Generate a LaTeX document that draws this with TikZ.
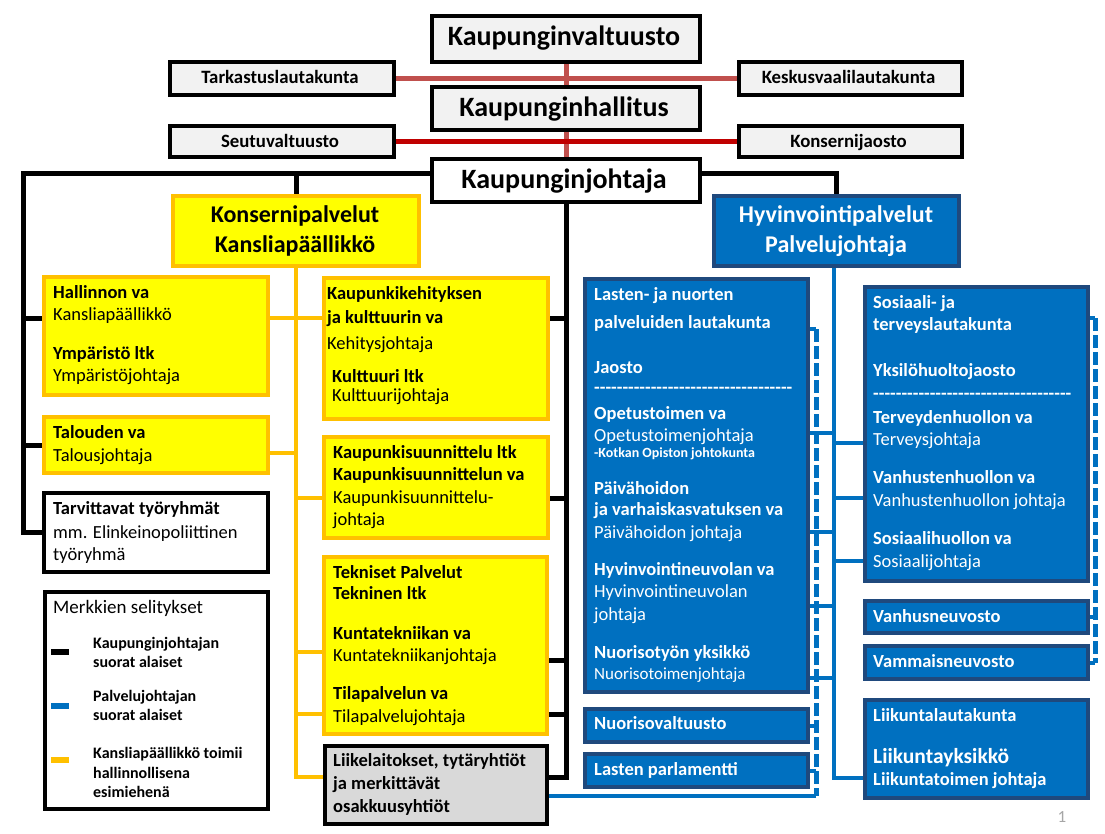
\documentclass[tikz,border=0pt]{standalone}
\usepackage{fontspec}
\setmainfont{Carlito}
\usetikzlibrary{backgrounds}
\definecolor{yfill}{HTML}{FFFF00}
\definecolor{yline}{HTML}{FFC000}
\definecolor{gfill}{HTML}{F2F2F2}
\definecolor{lgfill}{HTML}{D9D9D9}
\definecolor{bfill}{HTML}{0070C0}
\definecolor{bline}{HTML}{1F497D}
\definecolor{lred}{HTML}{C0504D}
\definecolor{dred}{HTML}{C00000}
\definecolor{pgnum}{HTML}{A6A6A6}
\tikzset{
 bx/.style={draw, line width=4pt, inner sep=0pt, anchor=north west},
 graybox/.style={bx, draw=black, fill=gfill},
 whitebox/.style={bx, draw=black, fill=white},
 ybox/.style={bx, draw=yline, fill=yfill},
 bbox/.style={bx, draw=bline, fill=bfill},
 lgbox/.style={bx, draw=black, fill=lgfill},
 tx/.style={anchor=base west, inner sep=0pt, font=\fontsize{18.5}{22}\selectfont},
 txb/.style={anchor=base west, inner sep=0pt, font=\fontsize{18.5}{22}\selectfont\bfseries},
 tbig/.style={anchor=base, inner sep=0pt, font=\fontsize{28}{32}\selectfont\bfseries},
 tsm/.style={anchor=base, inner sep=0pt, font=\fontsize{18.8}{22}\selectfont\bfseries},
 tmid/.style={anchor=base, inner sep=0pt, font=\fontsize{24}{28}\selectfont\bfseries},
 tleg/.style={anchor=base west, inner sep=0pt, font=\fontsize{16}{19}\selectfont\bfseries},
 wt/.style={text=white},
 blk/.style={line width=5pt, draw=black},
 ylw/.style={line width=4.5pt, draw=yline},
 blu/.style={line width=4pt, draw=bfill},
 bdash/.style={line width=5pt, draw=bfill, dash pattern=on 13pt off 4pt},
}
\newcommand\mkbox[6]{\node[#1, minimum width={(#5-#3)*1pt}, minimum height={(#6-#4)*1pt}] (#2) at (#3,#4) {};}
\newcommand\hyrow[1]{\foreach \i in {1,...,#1}{-\kern0pt}}
\begin{document}
\begin{tikzpicture}[x=1pt,y=-1pt]
\useasboundingbox (0,0) rectangle (1105,833);
% ---- boxes ----
\mkbox{graybox}{kv}{430}{14}{698}{60}
\mkbox{graybox}{kh}{430}{85}{698}{128}
\mkbox{whitebox}{kj}{430}{157}{698}{200}
\mkbox{graybox}{tark}{168}{60}{392}{93}
\mkbox{graybox}{kesk}{737}{60}{960}{93}
\mkbox{graybox}{seut}{168}{124}{392}{155}
\mkbox{graybox}{konsj}{737}{124}{960}{155}
\mkbox{ybox}{konsp}{171}{194}{417}{264}
\mkbox{bbox}{hyv}{712}{194}{957}{264}
\mkbox{ybox}{hall}{42}{275}{266}{393}
\mkbox{ybox}{talo}{42}{415}{266}{471}
\mkbox{whitebox}{tarv}{42}{491}{266}{570}
\mkbox{whitebox}{leg}{43}{590}{266}{807}
\mkbox{ybox}{kkeh}{322}{276}{546}{417}
\mkbox{ybox}{ksuun}{322}{435}{546}{536}
\mkbox{ybox}{tekn}{322}{555}{545}{732}
\mkbox{lgbox}{liik}{323}{744}{545}{822}
\mkbox{bbox}{lasten}{583}{277}{806}{690}
\mkbox{bbox}{nuor}{583}{707}{806}{740}
\mkbox{bbox}{lparl}{583}{752}{806}{785}
\mkbox{bbox}{sos}{863}{285}{1086}{579}
\mkbox{bbox}{vanh}{863}{599}{1086}{631}
\mkbox{bbox}{vamm}{863}{644}{1086}{677}
\mkbox{bbox}{liiku}{863}{698}{1086}{796}
% ---- helper coordinates ----
\coordinate (xL) at (23,173);
\coordinate (xB) at (834,0);
\coordinate (xD) at (816,0);
\coordinate (xR) at (1095,0);
\foreach \yy in {318,329,433,443,453,498,532,561,606,652,660,678,714,777,778,796}{\coordinate (y\yy) at (0,\yy);}
% ---- connectors ----
\begin{pgfonlayer}{background}
\fill[white] (0,0) rectangle (1105,833);
\draw[line width=5pt, lred] (kv.south) -- (kh.north);
\draw[line width=5pt, lred] (kh.south) -- (kj.north);
\draw[line width=5pt, lred] (tark.east) -- (kesk.west);
\draw[line width=5pt, dred] (seut.east) -- (konsj.west);
% black
\draw[blk] (kj.west|-xL) -- (xL) -- (xL|-tarv.west) -- (tarv.west);
\draw[blk] (xL|-y318) -- (hall.west|-y318);
\draw[blk] (xL|-talo.west) -- (talo.west);
\draw[blk] (konsp.north|-xL) -- (konsp.north);
\draw[blk] (kj.east|-xL) -- (hyv.north|-xL) -- (hyv.north);
\draw[blk] (kj.south) -- (kj.south|-y777) -- (liik.east|-y777);
\draw[blk] (kj.south|-y318) -- (kkeh.east|-y318);
\draw[blk] (kj.south|-y498) -- (ksuun.east|-y498);
\draw[blk] (kj.south|-y660) -- (tekn.east|-y660);
\draw[blk] (kj.south|-y714) -- (tekn.east|-y714);
% yellow
\draw[ylw] (konsp.south) -- (konsp.south|-y777) -- (liik.west|-y777);
\draw[ylw] (hall.east|-y318) -- (kkeh.west|-y318);
\draw[ylw] (talo.east|-y453) -- (konsp.south|-y453);
\draw[ylw] (konsp.south|-y498) -- (ksuun.west|-y498);
\draw[ylw] (konsp.south|-y652) -- (tekn.west|-y652);
\draw[ylw] (konsp.south|-y714) -- (tekn.west|-y714);
% blue solid
\draw[blu] (xB|-hyv.south) -- (xB|-y778) -- (liiku.west|-y778);
\foreach \yy in {433,532,606,678}{\draw[blu] (lasten.east|-y\yy) -- (xB|-y\yy);}
\foreach \yy in {443,498,561}{\draw[blu] (xB|-y\yy) -- (sos.west|-y\yy);}
% blue dashed
\draw[bdash] (xD|-y329) -- (xD|-y796);
\draw[blu] (lasten.east|-y329) -- (xD|-y329);
\draw[blu] (xD|-y796) -- (liik.east|-y796);
\draw[blu] (nuor.east) -- (xD|-nuor.east);
\draw[blu] (lparl.east) -- (xD|-lparl.east);
\draw[bdash] (xR|-y318) -- (xR|-vamm.east);
\draw[blu] (sos.east|-y318) -- (xR|-y318);
\draw[blu] (vanh.east) -- (xR|-vanh.east);
\draw[blu] (vamm.east) -- (xR|-vamm.east);
\end{pgfonlayer}
% ---- texts ----
\node[tbig] (t1) at (564,45) {Kaupunginvaltuusto};
\node[tbig] (t2) at (564,116) {Kaupunginhallitus};
\node[tbig] (t3) at (564,188) {Kaupunginjohtaja};
\node[tsm] (t4) at (280,83) {Tarkastuslautakunta};
\node[tsm] (t5) at (848.5,83) {Keskusvaalilautakunta};
\node[tsm] (t6) at (280,147) {Seutuvaltuusto};
\node[tsm] (t7) at (848.5,147) {Konsernijaosto};
\node[tmid] (t8) at (295,222) {Konsernipalvelut};
\node[tmid] (t9) at (295,252) {Kansliapäällikkö};
\node[tmid,wt] (t10) at (836,222) {Hyvinvointipalvelut};
\node[tmid,wt] (t11) at (836,252) {Palvelujohtaja};
% left
\node[txb] (a1) at (53,298) {Hallinnon va};
\node[tx] (a2) at (53,320) {Kansliapäällikkö};
\node[txb] (a3) at (53,359) {Ympäristö ltk};
\node[tx] (a4) at (53,381) {Ympäristöjohtaja};
\node[txb] (a5) at (53,438) {Talouden va};
\node[tx] (a6) at (53,461) {Talousjohtaja};
\node[txb] (a7) at (53,514) {Tarvittavat työryhmät};
\node[tx] (a8) at (53,538) {mm. Elinkeinopoliittinen};
\node[tx] (a9) at (53,560) {työryhmä};
% legend
\node[tx, font=\fontsize{19}{22}\selectfont] (l0) at (53,613) {Merkkien selitykset};
\draw[line width=6pt, black] (51,652) -- (69,652);
\draw[line width=6pt, bfill] (51,706) -- (69,706);
\draw[line width=6pt, yline] (51,760) -- (69,760);
\node[tleg] (l1) at (93,648) {Kaupunginjohtajan};
\node[tleg] (l2) at (93,667) {suorat alaiset};
\node[tleg] (l3) at (93,701) {Palvelujohtajan};
\node[tleg] (l4) at (93,720) {suorat alaiset};
\node[tleg] (l5) at (93,758) {Kansliapäällikkö toimii};
\node[tleg] (l6) at (93,778) {hallinnollisena};
\node[tleg] (l7) at (93,797) {esimiehenä};
% middle
\node[txb] (m1) at (327,299) {Kaupunkikehityksen};
\node[txb] (m2) at (327,323) {ja kulttuurin va};
\node[tx] (m3) at (327,349) {Kehitysjohtaja};
\node[txb] (m4) at (332,382) {Kulttuuri ltk};
\node[tx] (m5) at (332,401) {Kulttuurijohtaja};
\node[txb] (m6) at (333,458) {Kaupunkisuunnittelu ltk};
\node[txb] (m7) at (333,480) {Kaupunkisuunnittelun va};
\node[tx] (m8) at (333,503) {Kaupunkisuunnittelu-};
\node[tx] (m9) at (333,525) {johtaja};
\node[txb] (m10) at (333,578) {Tekniset Palvelut};
\node[txb] (m11) at (333,599) {Tekninen ltk};
\node[txb] (m12) at (333,639) {Kuntatekniikan va};
\node[tx] (m13) at (333,661) {Kuntatekniikanjohtaja};
\node[txb] (m14) at (333,699) {Tilapalvelun va};
\node[tx] (m15) at (333,722) {Tilapalvelujohtaja};
\node[txb] (m16) at (333,766) {Liikelaitokset, tytäryhtiöt};
\node[txb] (m17) at (333,789) {ja merkittävät};
\node[txb] (m18) at (333,812) {osakkuusyhtiöt};
% blue left
\node[txb,wt] (b1) at (594,300) {Lasten- ja nuorten};
\node[txb,wt] (b2) at (594,328) {palveluiden lautakunta};
\node[txb,wt] (b3) at (594,373) {Jaosto};
\node[txb,wt] (b4) at (594,393) {\hyrow{35}};
\node[txb,wt] (b5) at (594,419) {Opetustoimen va};
\node[tx,wt] (b6) at (594,441) {Opetustoimenjohtaja};
\node[txb,wt,font=\fontsize{14}{16}\selectfont\bfseries] (b7) at (594,457) {-Kotkan Opiston johtokunta};
\node[txb,wt] (b8) at (594,494) {Päivähoidon};
\node[txb,wt] (b9) at (594,515) {ja varhaiskasvatuksen va};
\node[tx,wt] (b10) at (594,538) {Päivähoidon johtaja};
\node[txb,wt] (b11) at (594,575) {Hyvinvointineuvolan va};
\node[tx,wt] (b12) at (594,597) {Hyvinvointineuvolan};
\node[tx,wt] (b13) at (594,620) {johtaja};
\node[txb,wt] (b14) at (594,658) {Nuorisotyön yksikkö};
\node[tx,wt,font=\fontsize{17}{20}\selectfont] (b15) at (594,679) {Nuorisotoimenjohtaja};
\node[txb,wt] (b16) at (594,729) {Nuorisovaltuusto};
\node[txb,wt] (b17) at (594,775) {Lasten parlamentti};
% blue right
\node[txb,wt] (c1) at (873,308) {Sosiaali- ja};
\node[txb,wt] (c2) at (873,330) {terveyslautakunta};
\node[txb,wt] (c3) at (873,376) {Yksilöhuoltojaosto};
\node[txb,wt] (c4) at (873,399) {\hyrow{35}};
\node[txb,wt] (c5) at (873,423) {Terveydenhuollon va};
\node[tx,wt] (c6) at (873,445) {Terveysjohtaja};
\node[txb,wt] (c7) at (873,483) {Vanhustenhuollon va};
\node[tx,wt] (c8) at (873,506) {Vanhustenhuollon johtaja};
\node[txb,wt] (c9) at (873,544) {Sosiaalihuollon va};
\node[tx,wt] (c10) at (873,567) {Sosiaalijohtaja};
\node[txb,wt] (c11) at (873,622) {Vanhusneuvosto};
\node[txb,wt] (c12) at (873,667) {Vammaisneuvosto};
\node[txb,wt] (c13) at (873,721) {Liikuntalautakunta};
\node[txb,wt,font=\fontsize{21.5}{24}\selectfont\bfseries] (c14) at (873,763) {Liikuntayksikkö};
\node[txb,wt] (c15) at (873,785) {Liikuntatoimen johtaja};
\node[anchor=base, inner sep=0pt, text=pgnum, font=\fontsize{17}{20}\selectfont] (pg) at (1062,822) {1};
\end{tikzpicture}
\end{document}
